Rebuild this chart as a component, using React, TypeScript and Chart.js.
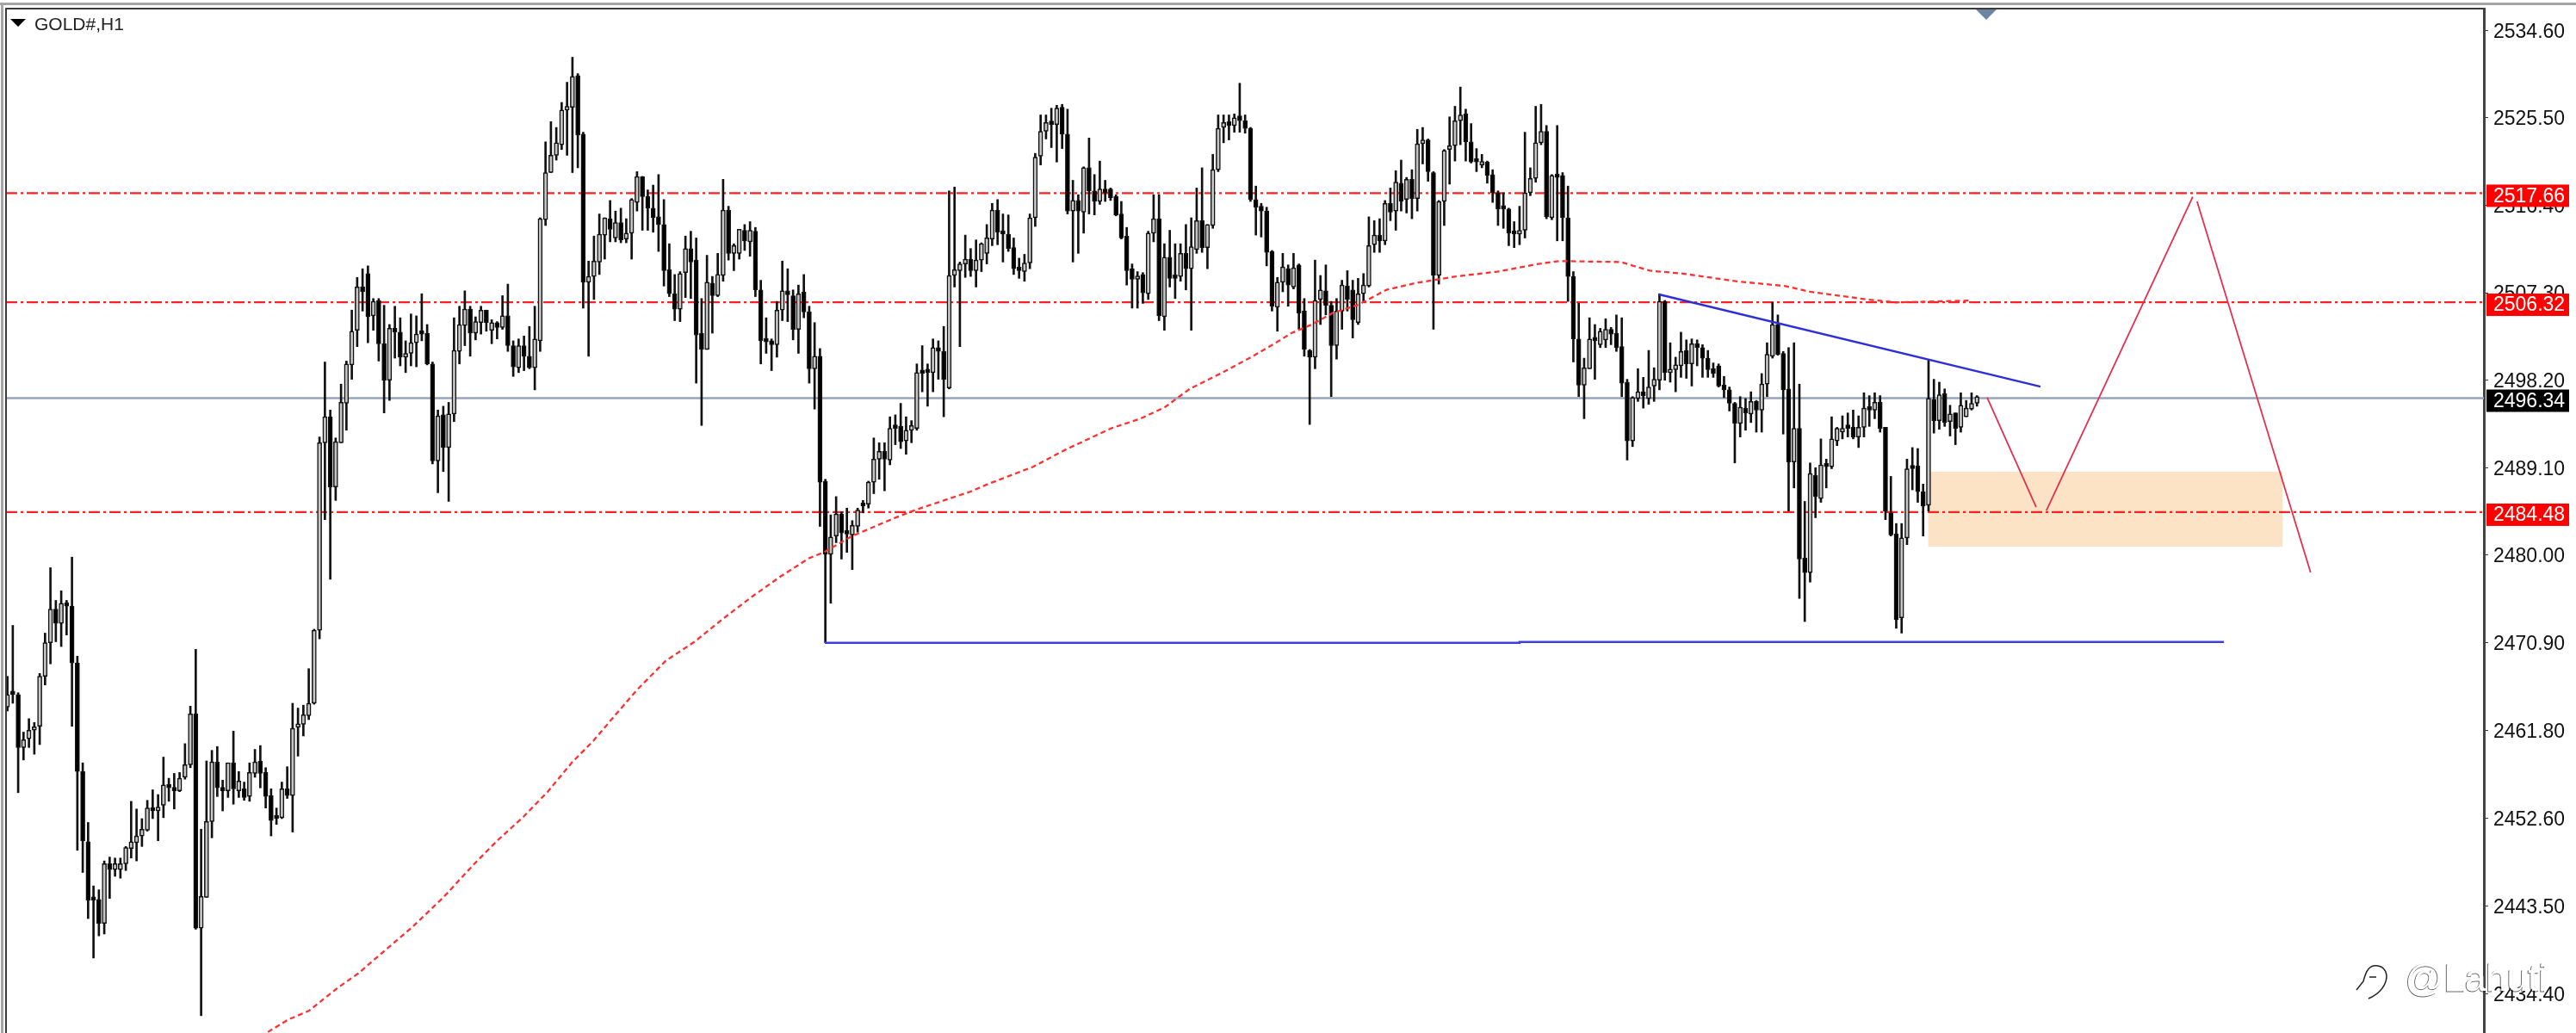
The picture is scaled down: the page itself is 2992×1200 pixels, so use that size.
import React, { useRef, useEffect } from 'react';
import { Chart, registerables } from 'chart.js';

Chart.register(...registerables);

const opens = [
	2464.2,2465.6,2465.5,2460.0,2460.9,2461.8,2462.2,2467.4,2470.9,2474.4,
	2472.9,2475.0,2474.7,2468.8,2457.5,2450.2,2444.2,2444.2,2441.7,2447.9,
	2447.3,2447.3,2447.9,2449.5,2450.1,2450.8,2451.4,2453.7,2453.4,2454.0,
	2456.1,2455.8,2455.5,2456.9,2458.2,2463.5,2441.2,2444.4,2452.3,2458.5,
	2455.8,2455.5,2458.4,2455.5,2455.7,2454.9,2457.3,2458.6,2457.4,2455.0,
	2452.8,2452.7,2455.7,2455.0,2462.1,2462.4,2463.3,2464.6,2472.2,2491.7,
	2494.4,2487.1,2491.7,2495.8,2499.8,2503.4,2507.9,2509.3,2504.9,2506.5,
	2502.0,2498.2,2503.6,2503.2,2500.6,2501.0,2502.1,2503.1,2503.1,2499.9,
	2489.8,2494.6,2491.2,2494.7,2501.2,2503.9,2505.6,2503.1,2504.2,2505.5,
	2503.4,2504.2,2503.7,2504.9,2501.8,2499.5,2501.8,2500.7,2499.5,2502.3,
	2514.9,2519.8,2521.6,2522.7,2526.3,2526.6,2529.9,2523.8,2508.4,2509.0,
	2510.5,2513.3,2515.0,2513.0,2514.6,2512.9,2513.5,2516.7,2519.4,2517.3,
	2516.1,2515.2,2514.4,2509.7,2507.2,2505.6,2509.4,2511.9,2510.7,2503.1,
	2501.4,2508.3,2507.0,2509.1,2515.9,2511.4,2511.4,2513.8,2512.6,2513.7,
	2507.6,2502.4,2502.3,2501.9,2505.5,2507.5,2507.0,2503.5,2507.4,2505.3,
	2499.4,2500.7,2487.7,2480.1,2482.0,2484.3,2482.3,2482.1,2483.0,2485.3,
	2485.3,2487.6,2490.0,2490.8,2489.9,2493.4,2493.4,2491.9,2493.0,2493.2,
	2499.0,2499.1,2499.0,2501.6,2501.2,2497.4,2509.1,2509.6,2510.3,2510.8,
	2509.6,2510.7,2511.4,2512.9,2515.9,2513.6,2513.4,2512.0,2509.9,2509.5,
	2510.4,2515.1,2521.5,2524.1,2525.0,2524.8,2526.6,2523.8,2515.8,2516.9,
	2515.7,2520.3,2517.9,2516.8,2518.1,2518.1,2517.3,2515.5,2513.2,2509.8,
	2508.7,2509.2,2507.2,2513.5,2515.0,2504.8,2511.0,2509.0,2509.0,2511.4,
	2509.8,2511.8,2514.8,2512.0,2514.3,2520.1,2524.5,2525.1,2524.7,2525.7,
	2525.2,2524.4,2517.0,2516.3,2515.8,2511.6,2505.8,2508.4,2509.8,2507.9,
	2510.2,2505.4,2501.3,2500.6,2506.6,2507.5,2506.0,2501.8,2505.4,2508.0,
	2507.6,2504.2,2507.2,2508.0,2512.3,2513.3,2512.7,2516.6,2515.8,2518.7,
	2517.0,2519.1,2517.1,2522.8,2523.2,2519.8,2509.1,2516.8,2522.2,2522.6,
	2525.2,2525.9,2523.0,2521.0,2520.6,2520.9,2519.6,2517.7,2516.1,2516.0,
	2513.5,2513.4,2513.8,2517.7,2519.2,2522.9,2524.1,2515.1,2519.5,2519.5,
	2515.1,2509.0,2502.5,2497.7,2499.4,2502.5,2501.9,2502.4,2503.5,2503.1,
	2501.7,2498.0,2491.9,2496.3,2497.0,2496.3,2497.6,2498.2,2506.4,2499.0,
	2499.3,2499.7,2501.3,2499.9,2502.0,2501.6,2500.5,2499.4,2499.7,2497.7,
	2497.2,2495.8,2493.7,2495.3,2494.7,2496.0,2495.1,2497.8,2500.7,2504.0,
	2501.0,2497.3,2489.7,2493.2,2479.7,2478.2,2488.3,2485.9,2489.5,2489.2,
	2491.9,2492.8,2493.3,2493.3,2492.3,2493.3,2495.2,2495.1,2495.9,2493.3,
	2484.4,2482.2,2473.5,2481.8,2489.2,2489.3,2486.6,2485.2,2496.2,2494.0,
	2496.8,2493.9,2494.8,2493.3,2494.4,2495.2,2495.8,
];

const closes = [
	2465.5,2465.5,2460.0,2460.8,2461.8,2462.1,2467.4,2470.9,2474.4,2472.9,
	2475.0,2474.7,2468.8,2457.5,2450.3,2444.1,2444.1,2441.7,2447.9,2447.3,
	2447.9,2447.9,2449.6,2450.2,2450.8,2451.5,2453.7,2453.4,2453.8,2456.1,
	2455.8,2455.5,2456.8,2458.2,2463.5,2441.2,2444.5,2452.3,2458.5,2455.8,
	2455.5,2458.4,2455.7,2456.5,2454.8,2457.4,2458.5,2457.3,2454.9,2452.4,
	2452.6,2455.7,2455.0,2462.0,2462.4,2463.4,2464.6,2472.2,2491.7,2494.4,
	2487.1,2491.8,2495.9,2499.9,2503.3,2507.9,2507.4,2504.8,2506.4,2502.0,
	2498.2,2503.6,2503.2,2500.6,2501.0,2502.1,2503.0,2503.0,2499.9,2489.8,
	2494.5,2491.2,2494.7,2501.3,2504.0,2505.6,2503.1,2504.3,2505.5,2504.2,
	2504.2,2503.7,2504.9,2501.8,2499.6,2501.8,2500.7,2499.5,2502.5,2515.0,
	2519.8,2521.6,2522.9,2526.3,2526.7,2529.8,2523.7,2508.4,2509.0,2510.6,
	2513.4,2515.1,2513.9,2514.6,2512.8,2513.5,2517.0,2519.4,2517.3,2516.1,
	2515.1,2514.4,2509.6,2507.2,2505.6,2509.3,2511.9,2510.5,2502.9,2501.4,
	2508.4,2507.0,2509.2,2515.9,2511.4,2512.2,2513.9,2512.7,2513.8,2507.6,
	2502.3,2502.2,2501.9,2505.5,2507.5,2507.1,2503.5,2507.2,2505.3,2499.4,
	2500.7,2487.6,2480.1,2481.9,2484.3,2482.3,2482.2,2483.1,2484.7,2485.1,
	2487.6,2490.0,2490.8,2490.0,2493.2,2493.2,2491.8,2493.0,2493.5,2499.0,
	2498.9,2499.0,2501.6,2501.2,2498.3,2509.1,2509.7,2510.3,2510.8,2509.6,
	2510.7,2512.4,2513.0,2515.9,2513.6,2513.4,2511.9,2509.8,2509.6,2510.4,
	2515.1,2521.4,2524.1,2525.0,2524.8,2526.5,2523.8,2515.8,2516.9,2515.8,
	2520.3,2517.9,2516.8,2518.1,2517.7,2517.2,2515.4,2513.0,2509.6,2508.7,
	2509.0,2507.3,2513.5,2515.0,2504.9,2511.0,2508.8,2508.8,2511.4,2509.8,
	2512.1,2514.8,2512.0,2514.4,2520.1,2524.4,2525.0,2524.7,2525.5,2525.2,
	2524.4,2517.0,2516.2,2515.8,2511.5,2505.9,2508.4,2510.0,2508.1,2509.9,
	2505.2,2501.4,2500.6,2506.5,2507.6,2506.0,2501.8,2505.4,2508.1,2506.6,
	2504.5,2507.2,2508.1,2512.2,2513.3,2512.7,2516.6,2515.7,2518.8,2516.8,
	2519.1,2517.1,2522.8,2523.2,2519.9,2509.1,2516.8,2522.1,2522.6,2525.2,
	2525.8,2523.0,2520.9,2520.9,2520.9,2519.5,2517.7,2516.0,2516.0,2513.5,
	2513.4,2513.8,2517.7,2519.2,2522.9,2524.1,2515.2,2519.5,2519.3,2515.1,
	2509.0,2502.5,2497.7,2499.5,2502.5,2502.3,2503.3,2503.5,2503.0,2501.6,
	2497.9,2491.9,2496.4,2497.0,2496.6,2497.5,2498.3,2506.4,2499.0,2499.2,
	2499.8,2501.2,2499.9,2502.0,2501.6,2500.5,2499.3,2498.9,2497.6,2497.2,
	2495.8,2493.7,2495.4,2494.8,2496.0,2495.1,2497.8,2500.9,2504.0,2500.9,
	2497.2,2489.7,2493.2,2479.6,2478.2,2488.5,2486.1,2489.4,2489.2,2492.1,
	2493.2,2493.2,2493.2,2492.3,2493.3,2495.3,2495.1,2495.9,2493.2,2484.6,
	2482.1,2473.3,2481.8,2489.0,2489.0,2486.6,2485.1,2496.3,2494.0,2496.7,
	2493.8,2494.7,2493.2,2495.6,2495.3,2495.8,2496.5,
];

const highs = [
	2467.4,2472.7,2465.7,2461.6,2463.0,2462.6,2467.7,2471.9,2478.7,2475.3,
	2476.3,2475.3,2479.8,2469.5,2458.4,2452.2,2445.6,2445.2,2448.2,2448.6,
	2448.5,2448.5,2449.7,2454.4,2453.6,2452.6,2454.5,2455.6,2455.1,2459.0,
	2456.8,2457.3,2457.4,2460.4,2464.3,2470.2,2451.5,2458.6,2459.7,2460.1,
	2456.6,2458.4,2461.7,2457.5,2456.4,2458.4,2459.8,2460.2,2457.9,2455.7,
	2453.7,2456.4,2458.0,2464.6,2464.1,2464.4,2468.2,2472.3,2492.3,2500.1,
	2495.1,2492.2,2497.8,2500.2,2505.5,2508.9,2509.8,2510.1,2506.7,2506.7,
	2506.0,2504.0,2505.9,2504.7,2502.3,2505.1,2504.9,2507.2,2504.0,2500.1,
	2495.1,2495.5,2495.9,2504.7,2505.9,2507.5,2505.9,2504.8,2505.9,2505.5,
	2504.5,2504.3,2507.0,2508.2,2502.3,2502.5,2502.8,2503.8,2505.9,2515.1,
	2523.0,2525.1,2524.5,2527.1,2529.2,2531.8,2530.1,2524.0,2510.6,2513.2,
	2515.5,2515.1,2516.9,2515.8,2516.1,2515.0,2517.1,2519.9,2519.4,2518.0,
	2518.5,2519.6,2517.0,2512.4,2509.2,2509.5,2513.2,2513.7,2513.0,2506.7,
	2511.2,2509.0,2511.4,2519.1,2516.3,2512.4,2513.9,2514.4,2514.7,2514.1,
	2508.6,2504.7,2502.5,2506.4,2510.6,2509.8,2507.6,2508.1,2509.2,2505.9,
	2504.2,2501.5,2487.9,2484.2,2486.1,2484.5,2484.9,2483.6,2484.9,2485.7,
	2487.7,2492.2,2491.7,2491.7,2494.4,2494.6,2495.8,2494.4,2494.0,2499.9,
	2501.8,2499.9,2502.5,2502.3,2503.8,2517.9,2518.3,2510.5,2513.3,2511.9,
	2512.8,2512.5,2514.4,2516.6,2517.0,2515.5,2515.4,2513.0,2510.9,2511.3,
	2515.5,2521.8,2525.8,2525.8,2526.5,2526.8,2526.9,2526.4,2519.0,2517.5,
	2520.4,2523.4,2519.6,2521.0,2519.0,2518.2,2517.5,2516.8,2514.1,2510.3,
	2509.5,2509.4,2513.7,2517.5,2517.5,2512.4,2513.8,2512.4,2512.4,2514.4,
	2515.1,2518.2,2520.3,2514.4,2521.7,2525.8,2525.8,2525.8,2525.9,2529.1,
	2525.8,2524.5,2518.4,2516.6,2516.2,2511.7,2508.9,2511.4,2510.2,2511.4,
	2510.3,2506.7,2501.4,2510.7,2509.1,2510.2,2506.4,2506.7,2508.6,2509.6,
	2508.6,2508.8,2509.3,2515.2,2514.8,2515.0,2516.9,2518.2,2520.0,2521.1,
	2519.3,2520.1,2524.3,2524.5,2523.3,2519.9,2516.9,2522.2,2525.6,2526.7,
	2528.7,2526.4,2524.9,2522.3,2521.7,2521.0,2520.1,2517.9,2517.7,2516.1,
	2514.7,2516.3,2524.0,2520.3,2526.7,2526.9,2524.7,2519.6,2524.7,2519.8,
	2518.4,2509.5,2506.2,2500.5,2504.7,2504.0,2503.6,2504.6,2503.7,2505.0,
	2504.7,2498.3,2496.5,2499.4,2498.5,2501.3,2499.5,2507.2,2506.5,2502.1,
	2500.6,2503.2,2502.4,2502.5,2502.4,2501.9,2501.3,2500.0,2499.9,2498.6,
	2497.5,2495.9,2496.5,2496.3,2497.0,2496.1,2498.9,2502.1,2506.3,2505.0,
	2501.2,2501.6,2502.1,2497.8,2485.6,2489.6,2489.1,2492.1,2490.0,2494.4,
	2493.3,2494.5,2494.8,2495.1,2494.5,2496.9,2496.6,2496.9,2496.6,2493.3,
	2488.2,2483.3,2483.3,2490.0,2491.2,2491.1,2487.4,2500.3,2498.3,2498.0,
	2497.3,2495.6,2494.8,2496.9,2496.1,2496.9,2496.6,
];

const lows = [
	2463.8,2464.6,2455.3,2458.7,2460.0,2459.3,2460.3,2466.5,2468.7,2471.0,
	2470.5,2471.7,2462.2,2449.3,2447.0,2442.2,2438.1,2440.4,2440.6,2444.3,
	2446.6,2446.4,2447.2,2448.5,2448.2,2449.7,2451.3,2452.6,2450.3,2452.7,
	2454.4,2453.6,2455.4,2456.7,2457.9,2441.1,2432.1,2444.4,2450.6,2454.9,
	2453.4,2454.8,2454.1,2454.8,2454.5,2454.4,2456.9,2455.8,2453.7,2450.8,
	2452.0,2452.6,2454.7,2451.2,2459.1,2461.2,2462.9,2464.5,2471.3,2483.7,
	2477.5,2485.7,2491.7,2493.0,2498.3,2501.7,2505.4,2502.1,2503.4,2500.2,
	2494.8,2496.1,2500.5,2499.7,2499.0,2499.7,2499.6,2502.3,2499.8,2489.5,
	2486.5,2488.7,2485.6,2493.9,2499.9,2501.8,2500.7,2502.4,2503.0,2503.3,
	2502.0,2502.5,2503.5,2501.2,2498.6,2499.0,2499.2,2499.4,2497.2,2501.2,
	2514.3,2519.8,2521.1,2522.2,2521.6,2519.8,2520.3,2505.7,2500.7,2506.6,
	2509.2,2510.8,2512.6,2512.6,2512.5,2512.5,2510.8,2515.8,2513.8,2513.8,
	2513.6,2511.6,2508.0,2506.9,2504.4,2504.3,2506.8,2506.7,2497.9,2493.5,
	2501.4,2503.1,2506.9,2508.5,2510.7,2509.6,2510.8,2511.7,2511.1,2506.9,
	2499.9,2501.0,2499.2,2500.6,2504.4,2504.3,2502.4,2501.0,2504.7,2497.9,
	2495.2,2483.0,2470.9,2475.0,2481.3,2479.6,2480.3,2478.5,2482.4,2484.4,
	2484.9,2486.4,2487.9,2486.7,2489.4,2491.5,2491.1,2490.5,2491.7,2493.0,
	2497.0,2495.5,2497.0,2498.3,2494.4,2497.3,2507.9,2501.7,2508.9,2509.0,
	2507.9,2509.5,2510.3,2512.2,2512.3,2510.5,2511.6,2509.2,2508.8,2508.5,
	2509.8,2514.2,2520.6,2523.3,2522.4,2520.9,2522.3,2515.5,2510.5,2511.4,
	2513.5,2515.5,2515.4,2516.5,2516.8,2516.9,2515.3,2512.9,2508.1,2505.7,
	2505.7,2506.2,2506.6,2512.6,2504.4,2503.4,2507.9,2506.7,2508.5,2507.6,
	2503.4,2511.4,2511.5,2509.8,2514.0,2519.9,2522.9,2523.2,2524.0,2524.0,
	2523.9,2516.8,2513.3,2513.1,2510.1,2505.4,2503.3,2507.4,2505.9,2507.7,
	2503.5,2500.7,2493.6,2499.4,2504.0,2505.0,2496.5,2500.4,2503.5,2505.4,
	2502.6,2504.0,2506.3,2507.9,2511.5,2511.5,2512.3,2514.8,2513.8,2515.8,
	2515.6,2515.0,2515.8,2520.7,2518.9,2503.5,2508.2,2514.3,2518.6,2521.0,
	2522.7,2521.0,2520.8,2519.9,2520.3,2518.7,2516.7,2514.3,2514.0,2512.2,
	2512.0,2512.3,2513.0,2517.4,2518.8,2522.7,2515.0,2514.9,2512.7,2512.7,
	2506.4,2500.1,2496.5,2494.2,2499.4,2498.3,2501.6,2501.6,2501.9,2501.2,
	2496.5,2489.9,2491.3,2496.0,2495.3,2495.7,2496.0,2497.2,2498.2,2498.0,
	2497.0,2498.5,2498.4,2497.6,2499.7,2498.5,2498.5,2498.5,2497.5,2496.4,
	2495.0,2489.6,2492.3,2493.0,2493.8,2492.8,2492.8,2496.5,2500.5,2500.8,
	2492.6,2484.6,2487.0,2475.5,2473.1,2477.2,2483.9,2485.5,2487.0,2489.0,
	2491.4,2492.1,2492.3,2492.1,2491.2,2492.3,2493.4,2494.2,2492.8,2483.7,
	2482.0,2472.4,2471.9,2481.1,2486.8,2485.5,2482.0,2484.6,2492.7,2493.1,
	2493.4,2492.4,2491.5,2492.8,2494.4,2495.1,2495.5,
];

const maIndex = [48.4,52.2,56,58.7,61.4,65.2,70.6,75.2,81,86.6,91.2,95.9,100.4,105,108.9,113,117,122.3,127.7,133,138.4,143.7,149,151.7,157,165,168.7,174,178.9,182.2,190.6,196.7,205.1,210.5,215.1,219.7,225.8,231.1,235.7,238.6,242.4,246.3,250.8,253.9,256.2,261.6,269.2,276.9,284.5,288.3,299.8,305.2,311.3,321.2,330.4,335,345.7,351,358.6,365];
const maValues = [2430.4,2431.7,2432.6,2433.8,2435.0,2436.5,2439.1,2441.3,2444.4,2447.8,2450.4,2452.8,2455.4,2458.5,2460.7,2463.4,2466.0,2469.0,2471.0,2473.4,2475.7,2477.8,2479.7,2480.3,2482.0,2483.9,2484.7,2485.7,2486.6,2487.4,2489.2,2491.0,2493.2,2494.2,2495.4,2497.3,2499.0,2500.6,2502.1,2503.1,2504.0,2505.2,2506.0,2506.9,2507.6,2508.3,2509.0,2509.5,2510.3,2510.6,2510.5,2509.6,2509.3,2508.5,2508.0,2507.4,2506.6,2506.3,2506.4,2506.5];

const redLevels = [2517.66, 2506.32, 2484.48];
const lastPrice = 2496.34;
const priceTicks = [2534.6, 2525.5, 2516.4, 2507.3, 2498.2, 2489.1, 2480.0, 2470.9, 2461.8, 2452.6, 2443.5, 2434.4];

const resistanceIdx = [306.9, 377.8];
const resistanceVal = [2507.13, 2497.54];
const supportIdx = [151.9, 281, 281, 411.9];
const supportVal = [2470.88, 2470.88, 2470.98, 2470.98];

const projectionIdx = [367.9, 377.0, NaN, 378.9, 406.1, NaN, 406.9, 428.0];
const projectionVal = [2496.4, 2485.0, NaN, 2484.65, 2517.29, NaN, 2516.8, 2478.2];

const zoneIdx = [356.9, 422.8];
const zoneTop = 2488.68;
const zoneBottom = 2480.9;

const X_MIN = -0.256;
const X_MAX = 460.2;
const Y_MIN = 2430.3;
const Y_MAX = 2536.86;
const AXIS_W = 107;

const FONT = '"Liberation Sans", Arial, sans-serif';

const toPoints = (xs: number[], ys: number[]) => xs.map((x, i) => ({ x, y: isNaN(ys[i]) ? null : ys[i] }));

const overlays = {
	id: 'overlays',
	afterDraw(chart: any) {
		const { ctx, chartArea, scales } = chart;
		const y = scales.y;
		ctx.save();

		// window frame
		ctx.fillStyle = '#a6a6a6';
		ctx.fillRect(0, 3, 2992, 3);
		ctx.fillRect(1, 3, 3, 1197);
		ctx.fillStyle = '#3c3c3c';
		ctx.fillRect(chartArea.left - 1, 9, chartArea.right - chartArea.left + 1, 2);
		ctx.fillRect(chartArea.left - 1, 9, 2, 1191);

		// chart shift marker
		ctx.fillStyle = '#6b86a3';
		ctx.beginPath();
		ctx.moveTo(2295, 11);
		ctx.lineTo(2319, 11);
		ctx.lineTo(2307, 23);
		ctx.closePath();
		ctx.fill();

		// symbol caption
		ctx.fillStyle = '#000';
		ctx.beginPath();
		ctx.moveTo(12, 22);
		ctx.lineTo(30, 22);
		ctx.lineTo(21, 31);
		ctx.closePath();
		ctx.fill();
		ctx.fillStyle = '#222';
		ctx.font = `21px ${FONT}`;
		ctx.textAlign = 'left';
		ctx.textBaseline = 'middle';
		ctx.fillText('GOLD#,H1', 40, 29);

		// price tags on the axis
		const tag = (value: number, bg: string) => {
			const py = y.getPixelForValue(value);
			ctx.fillStyle = bg;
			ctx.fillRect(2888, py - 10, 96, 26);
			ctx.fillStyle = '#fff';
			ctx.font = `23px ${FONT}`;
			ctx.textAlign = 'left';
			ctx.textBaseline = 'middle';
			ctx.fillText(value.toFixed(2), 2896, py + 4);
		};
		redLevels.forEach((v) => tag(v, '#ff0000'));
		tag(lastPrice, '#000');

		// watermark
		ctx.font = `44px ${FONT}`;
		ctx.textAlign = 'left';
		ctx.textBaseline = 'alphabetic';
		ctx.lineWidth = 1;
		ctx.strokeStyle = 'rgba(0,0,0,0.6)';
		ctx.strokeText('@Lahuti', 2793, 1152);
		ctx.fillStyle = '#fff';
		ctx.fillText('@Lahuti', 2794, 1151);
		ctx.strokeStyle = '#222';
		ctx.lineWidth = 1.5;
		ctx.beginPath();
		ctx.moveTo(2751, 1160);
		ctx.bezierCurveTo(2775, 1150, 2778, 1125, 2762, 1122);
		ctx.bezierCurveTo(2752, 1120, 2748, 1128, 2745, 1140);
		ctx.lineTo(2737, 1150);
		ctx.moveTo(2752, 1135);
		ctx.lineTo(2760, 1135);
		ctx.stroke();

		ctx.restore();
	},
};

const lineDefaults = { type: 'line' as const, pointRadius: 0, fill: false, tension: 0, spanGaps: false };

const App: React.FC = () => {
	const chartRef = useRef<HTMLCanvasElement>(null);
	const chartInstance = useRef<Chart | null>(null);

	useEffect(() => {
		document.body.style.margin = '0';
		document.body.style.overflow = 'hidden';
		document.body.style.background = '#fff';
		const ctx = chartRef.current?.getContext('2d');
		if (ctx) {
			const ends = [X_MIN, X_MAX];
			const datasets: any[] = [
				{
					...lineDefaults,
					label: 'zone',
					data: toPoints(zoneIdx, [zoneTop, zoneTop]),
					borderWidth: 0,
					backgroundColor: '#fde3c5',
					fill: { value: zoneBottom },
					order: 20,
				},
				...redLevels.map((v) => ({
					...lineDefaults,
					label: 'level ' + v,
					data: toPoints(ends, [v, v]),
					borderColor: '#ff2020',
					borderWidth: 2.2,
					borderDash: [13, 4, 3, 4],
					order: 15,
				})),
				{
					...lineDefaults,
					label: 'last',
					data: toPoints(ends, [lastPrice, lastPrice]),
					borderColor: '#98a5b8',
					borderWidth: 2.5,
					order: 15,
				},
				{
					type: 'bar',
					label: 'wick',
					data: highs.map((h, i) => ({ x: i, y: [lows[i], h] })),
					backgroundColor: '#111',
					barThickness: 2,
					grouped: false,
					order: 6,
				},
				{
					type: 'bar',
					label: 'body',
					data: opens.map((o, i) => ({ x: i, y: [o, closes[i]] })),
					backgroundColor: opens.map((o, i) => (closes[i] >= o ? '#c6c6c6' : '#000')),
					borderColor: '#111',
					borderWidth: 1.5,
					borderSkipped: false,
					barThickness: 5,
					minBarLength: 4,
					grouped: false,
					order: 5,
				},
				{
					...lineDefaults,
					label: 'MA',
					data: toPoints(maIndex, maValues),
					borderColor: '#ff3030',
					borderWidth: 2.3,
					borderDash: [6, 4],
					order: 3,
				},
				{
					...lineDefaults,
					label: 'resistance',
					data: toPoints(resistanceIdx, resistanceVal),
					borderColor: '#2f2fd8',
					borderWidth: 2.5,
					order: 2,
				},
				{
					...lineDefaults,
					label: 'support',
					data: toPoints(supportIdx, supportVal),
					borderColor: '#3f3fdc',
					borderWidth: 2.5,
					order: 2,
				},
				{
					...lineDefaults,
					label: 'projection',
					data: toPoints(projectionIdx, projectionVal),
					borderColor: '#e2314f',
					borderWidth: 1.8,
					order: 1,
				},
			];

			chartInstance.current = new Chart(ctx, {
				type: 'bar',
				data: { datasets },
				plugins: [overlays],
				options: {
					responsive: false,
					animation: false,
					devicePixelRatio: 1,
					layout: { autoPadding: false, padding: { left: 7, top: 10, right: 0, bottom: 0 } },
					plugins: { legend: { display: false }, tooltip: { enabled: false }, title: { display: false } },
					scales: {
						x: { type: 'linear', display: false, min: X_MIN, max: X_MAX, offset: false },
						y: {
							position: 'right',
							min: Y_MIN,
							max: Y_MAX,
							afterFit: (scale: any) => {
								// the axis fills the window height: no room kept for label overhang
								scale.width = AXIS_W;
								scale.paddingTop = 0;
								scale.paddingBottom = 0;
							},
							afterBuildTicks: (scale: any) => {
								scale.ticks = priceTicks.map((value) => ({ value }));
							},
							border: { display: true, color: '#444', width: 3 },
							grid: { drawOnChartArea: false, drawTicks: true, tickLength: 5, color: '#333' },
							ticks: {
								autoSkip: false,
								padding: 6,
								labelOffset: 2,
								color: '#111',
								font: { family: FONT, size: 23 },
								callback: (value: any) => Number(value).toFixed(2),
							},
						},
					},
				} as any,
			} as any);
		}

		return () => {
			chartInstance.current?.destroy();
		};
	}, []);

	return <canvas ref={chartRef} width={2992} height={1200} style={{ display: 'block', filter: 'blur(0.5px)' }} />;
};

export default App;
